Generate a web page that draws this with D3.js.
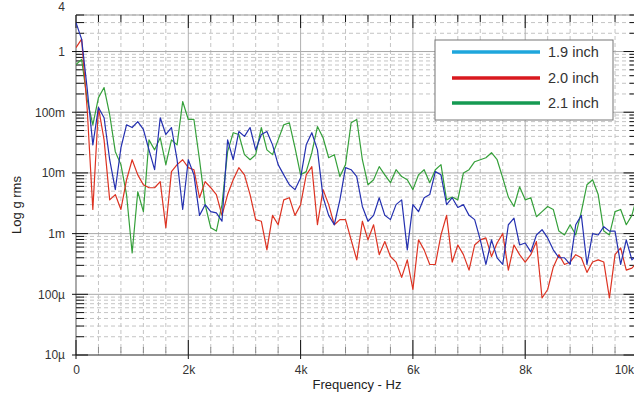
<!DOCTYPE html>
<html>
<head>
<meta charset="utf-8">
<script src="https://cdn.jsdelivr.net/npm/d3@7"></script>
<style>
  body { margin: 0; background: #fff; }
  svg { display: block; font-family: "Liberation Sans", Arial, sans-serif; }
</style>
</head>
<body>
<svg id="chart" width="634" height="396"></svg>
<script>
// frequency grid, Hz
const freqs = d3.range(0, 10001, 100);

// g rms per frequency step
const inch19 = [3.0,1.6,0.24,0.029,0.12,0.081,0.0165,0.0053,0.026,0.062,
  0.056,0.070,0.052,0.024,0.0113,0.081,0.043,0.056,0.0165,0.0025,
  0.0165,0.0093,0.0020,0.0030,0.0023,0.0022,0.0016,0.035,0.0165,0.048,
  0.040,0.056,0.024,0.043,0.048,0.029,0.0137,0.0093,0.0064,0.0053,
  0.0083,0.029,0.046,0.024,0.0040,0.0020,0.0014,0.0036,0.0122,0.0113,
  0.0087,0.0028,0.0016,0.0020,0.0039,0.0020,0.0017,0.0030,0.0036,0.00054,
  0.0030,0.0023,0.0039,0.0044,0.0105,0.0093,0.0030,0.0039,0.0027,0.0030,
  0.0020,0.0017,0.00079,0.00031,0.00079,0.00040,0.00031,0.0014,0.0018,0.00065,
  0.00070,0.00050,0.00095,0.00116,0.00085,0.00054,0.00040,0.00040,0.00031,0.0014,
  0.0020,0.00031,0.0010,0.00095,0.0013,0.0011,0.0011,0.00031,0.00079,0.00037,
  0.00045];

const inch20 = [1.16,1.6,0.11,0.0025,0.12,0.035,0.0036,0.0044,0.0025,0.0077,
  0.0165,0.0093,0.0064,0.0057,0.0057,0.0072,0.00125,0.0105,0.0137,0.0165,
  0.0122,0.0113,0.0039,0.0072,0.0057,0.0044,0.0020,0.0044,0.0077,0.0122,
  0.0093,0.0044,0.0017,0.0016,0.00054,0.0020,0.0014,0.0036,0.0039,0.0020,
  0.0030,0.0093,0.0127,0.0014,0.0053,0.0030,0.0014,0.0017,0.0017,0.00079,
  0.00037,0.0016,0.00079,0.0014,0.00045,0.00074,0.00042,0.00034,0.00019,0.00037,
  0.00012,0.00079,0.00054,0.00031,0.00031,0.00095,0.0020,0.00034,0.00065,0.00045,
  0.00025,0.00065,0.00079,0.00085,0.00042,0.00070,0.0010,0.00025,0.00065,0.00045,
  0.00034,0.00045,0.00074,0.000087,0.00012,0.00028,0.00045,0.00031,0.00034,0.00045,
  0.00040,0.00023,0.00034,0.00037,0.00034,0.000087,0.00045,0.00058,0.00025,0.00027,
  0.00034];

const inch21 = [0.61,0.74,0.16,0.062,0.174,0.255,0.091,0.0224,0.0137,0.0044,
  0.00048,0.0049,0.0023,0.035,0.024,0.038,0.0137,0.035,0.029,0.15,
  0.076,0.076,0.0165,0.0030,0.00125,0.0011,0.0030,0.0224,0.046,0.043,
  0.020,0.0165,0.020,0.056,0.024,0.020,0.035,0.062,0.067,0.026,
  0.0093,0.0105,0.0215,0.058,0.038,0.0178,0.020,0.0087,0.0137,0.067,
  0.076,0.0165,0.0064,0.0077,0.0127,0.0093,0.0069,0.0113,0.0087,0.0077,
  0.0053,0.0093,0.0113,0.0069,0.0113,0.0137,0.0036,0.0040,0.0036,0.010,
  0.0113,0.0153,0.0165,0.0178,0.0215,0.0165,0.0083,0.0040,0.0028,0.0059,
  0.0036,0.0039,0.0019,0.0023,0.0028,0.0025,0.0011,0.00095,0.0014,0.00095,
  0.0023,0.0064,0.0077,0.0044,0.0011,0.00095,0.0023,0.0025,0.0014,0.0020,
  0.0044];

const seriesNames = ["1.9 inch", "2.0 inch", "2.1 inch"];
const xTickValues = [0, 2000, 4000, 6000, 8000, 10000];
const xTickLabels = ["0", "2k", "4k", "6k", "8k", "10k"];
const yTickValues = [1e-5, 1e-4, 1e-3, 1e-2, 1e-1, 1, 4];
const yTickLabels = ["10\u00b5", "100\u00b5", "1m", "10m", "100m", "1", "4"];

const svg = d3.select("#chart");
const plot = { left: 76, right: 637.5, top: 15, bottom: 355 };

const x = d3.scaleLinear().domain([0, 10000]).range([plot.left, plot.right]);
const y = d3.scaleLog().domain([1e-5, 4]).range([plot.bottom, plot.top]);

const yDecades = yTickValues.slice(0, 6);
const yMinor = y.ticks().filter(v => !yDecades.some(d => Math.abs(v / d - 1) < 1e-6));
const xMinor = d3.range(0, 10001, 400).filter(v => v % 2000 !== 0);

// grid
const grid = svg.append("g");
grid.selectAll(".hmin").data(yMinor).enter().append("line")
  .attr("x1", plot.left).attr("x2", plot.right)
  .attr("y1", d => y(d)).attr("y2", d => y(d))
  .attr("stroke", "#c4c4c4").attr("stroke-dasharray", "4,3");
grid.selectAll(".vmin").data(xMinor).enter().append("line")
  .attr("x1", d => x(d)).attr("x2", d => x(d))
  .attr("y1", plot.top).attr("y2", plot.bottom)
  .attr("stroke", "#c4c4c4").attr("stroke-dasharray", "4,3");
grid.selectAll(".hmaj").data(yDecades.slice(1)).enter().append("line")
  .attr("x1", plot.left).attr("x2", plot.right)
  .attr("y1", d => y(d)).attr("y2", d => y(d))
  .attr("stroke", "#a8a8a8");
grid.selectAll(".vmaj").data(xTickValues.slice(1)).enter().append("line")
  .attr("x1", d => x(d)).attr("x2", d => x(d))
  .attr("y1", plot.top).attr("y2", plot.bottom)
  .attr("stroke", "#b0b0b0");

// frame
svg.append("line").attr("x1", plot.left).attr("x2", plot.right)
  .attr("y1", plot.top).attr("y2", plot.top).attr("stroke", "#999");
svg.append("line").attr("x1", plot.left).attr("x2", plot.left)
  .attr("y1", plot.top).attr("y2", plot.bottom).attr("stroke", "#aaa").attr("stroke-width", 2);

// ticks
const ticks = svg.append("g").attr("stroke", "#111");
ticks.selectAll(".lmin").data(yMinor).enter().append("line")
  .attr("x1", plot.left).attr("x2", plot.left + 8)
  .attr("y1", d => y(d)).attr("y2", d => y(d));
ticks.selectAll(".lmaj").data(yDecades).enter().append("line")
  .attr("x1", plot.left - 4).attr("x2", plot.left + 12)
  .attr("y1", d => y(d)).attr("y2", d => y(d));
ticks.selectAll(".rmin").data(yMinor).enter().append("line")
  .attr("x1", plot.right - 8).attr("x2", plot.right)
  .attr("y1", d => y(d)).attr("y2", d => y(d));
ticks.selectAll(".rmaj").data(yDecades).enter().append("line")
  .attr("x1", plot.right - 14).attr("x2", plot.right)
  .attr("y1", d => y(d)).attr("y2", d => y(d));
ticks.selectAll(".tmin").data(xMinor).enter().append("line")
  .attr("x1", d => x(d)).attr("x2", d => x(d))
  .attr("y1", plot.top).attr("y2", plot.top + 7);
ticks.selectAll(".tmaj").data(xTickValues).enter().append("line")
  .attr("x1", d => x(d)).attr("x2", d => x(d))
  .attr("y1", plot.top).attr("y2", plot.top + 13);
ticks.selectAll(".bmin").data(xMinor).enter().append("line")
  .attr("x1", d => x(d)).attr("x2", d => x(d))
  .attr("y1", plot.bottom - 8).attr("y2", plot.bottom - 2)
  .attr("stroke", "#888");
ticks.selectAll(".bmaj").data(xTickValues).enter().append("line")
  .attr("x1", d => x(d)).attr("x2", d => x(d))
  .attr("y1", plot.bottom - 15).attr("y2", plot.bottom + 4);
svg.append("line").attr("x1", plot.left).attr("x2", plot.right)
  .attr("y1", plot.bottom).attr("y2", plot.bottom).attr("stroke", "#222");

// axis labels via d3 axes
const xAxis = d3.axisBottom(x).tickValues(xTickValues).tickSize(0).tickPadding(10)
  .tickFormat((d, i) => xTickLabels[i]);
const gx = svg.append("g").attr("transform", `translate(0,${plot.bottom})`).call(xAxis);
gx.select(".domain").remove();
gx.selectAll("text").attr("font-size", 12).attr("fill", "#333").attr("font-family", null);
gx.selectAll("text").filter((d, i) => i === xTickLabels.length - 1)
  .attr("text-anchor", "end").attr("dx", -4);

const yAxis = d3.axisLeft(y).tickValues(yTickValues).tickSize(0).tickPadding(11)
  .tickFormat((d, i) => yTickLabels[i]);
const gy = svg.append("g").attr("transform", `translate(${plot.left},0)`).call(yAxis);
gy.select(".domain").remove();
gy.selectAll("text").attr("font-size", 12).attr("fill", "#333").attr("font-family", null);
gy.selectAll("text").filter((d, i) => i === yTickLabels.length - 1).attr("dy", "-0.35em");

svg.append("text").attr("x", 357).attr("y", 389).attr("text-anchor", "middle")
  .attr("font-size", 13).attr("fill", "#222").text("Frequency - Hz");
svg.append("text").attr("transform", "translate(21,205) rotate(-90)")
  .attr("text-anchor", "middle").attr("font-size", 13).attr("fill", "#222").text("Log g rms");

// series
svg.append("clipPath").attr("id", "clip").append("rect")
  .attr("x", plot.left).attr("y", plot.top)
  .attr("width", plot.right - plot.left).attr("height", plot.bottom - plot.top);

const line = d3.line().x((d, i) => x(freqs[i])).y(d => y(d));
const series = [
  { values: inch21, color: "#35a03a" },
  { values: inch20, color: "#dd3322" },
  { values: inch19, color: "#2430b0" }
];
svg.append("g").attr("clip-path", "url(#clip)")
  .selectAll("path").data(series).enter().append("path")
  .attr("d", d => line(d.values))
  .attr("fill", "none").attr("stroke", d => d.color)
  .attr("stroke-width", 1.2).attr("stroke-linejoin", "round");

// legend
const legendColors = ["#1ea6dc", "#d9191e", "#159a52"];
const lg = svg.append("g").attr("transform", "translate(435,40)");
lg.append("rect").attr("width", 178).attr("height", 80)
  .attr("fill", "#fff").attr("stroke", "#777");
const items = lg.selectAll(".item").data(seriesNames).enter().append("g")
  .attr("transform", (d, i) => `translate(0,${[12, 38, 63][i]})`);
items.append("line").attr("x1", 17).attr("x2", 105)
  .attr("stroke", (d, i) => legendColors[i]).attr("stroke-width", 3.5);
items.append("text").attr("x", 113).attr("dy", "0.35em")
  .attr("font-size", 14.5).attr("fill", "#333").text(d => d);
</script>
</body>
</html>
